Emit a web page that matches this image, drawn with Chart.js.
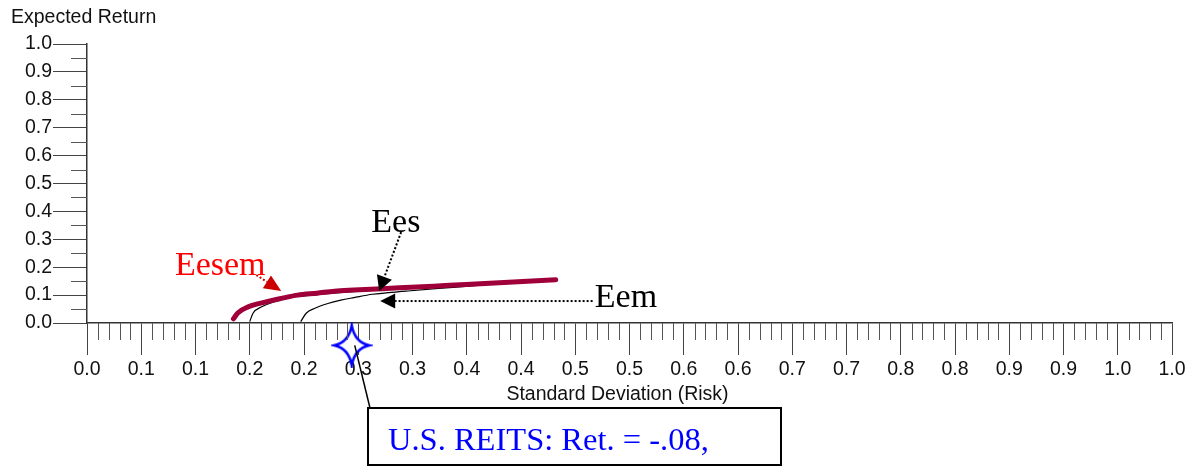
<!DOCTYPE html>
<html>
<head>
<meta charset="utf-8">
<script src="https://cdn.jsdelivr.net/npm/chart.js@4.4.1/dist/chart.umd.min.js"></script>
<style>
  html, body { margin: 0; padding: 0; background: #ffffff; }
  #wrap { width: 1199px; height: 468px; position: relative; }
</style>
</head>
<body>
<div id="wrap"><canvas id="frontier" width="1199" height="468"></canvas></div>
<script>
// Tick labels along the risk axis (one per 0.05 step, rounded to one decimal)
const xTickLabels = ['0.0','0.1','0.1','0.2','0.2','0.3','0.3','0.4','0.4','0.5','0.5',
                     '0.6','0.6','0.7','0.7','0.8','0.8','0.9','0.9','1.0','1.0'];

// Efficient frontier: equities + small caps + emerging markets
const eesemRisk   = [0.135, 0.139, 0.148, 0.164, 0.180, 0.194, 0.212, 0.228, 0.246, 0.288, 0.334, 0.380, 0.432];
const eesemReturn = [0.015, 0.036, 0.057, 0.075, 0.089, 0.100, 0.107, 0.114, 0.118, 0.126, 0.135, 0.144, 0.155];

// Efficient frontier: equities + small caps
const eesRisk   = [0.150, 0.153, 0.161, 0.173, 0.188, 0.207, 0.219, 0.233, 0.269, 0.334, 0.416];
const eesReturn = [0.005, 0.035, 0.058, 0.076, 0.092, 0.100, 0.104, 0.109, 0.119, 0.132, 0.150];

// Efficient frontier: equities + emerging markets
const eemRisk   = [0.197, 0.202, 0.210, 0.222, 0.234, 0.246, 0.263, 0.294, 0.324, 0.352, 0.375];
const eemReturn = [0.005, 0.035, 0.053, 0.070, 0.082, 0.091, 0.103, 0.114, 0.124, 0.132, 0.140];

// Single asset: U.S. REITs
const reitRisk   = [0.244];
const reitReturn = [-0.08];

const toPoints = (xs, ys) => xs.map((x, i) => ({ x: x, y: ys[i] }));

// Four-pointed star glyph used as the REIT marker
function makeStar() {
  const w = 42, h = 46;
  const cv = document.createElement('canvas');
  cv.width = w; cv.height = h;
  const g = cv.getContext('2d');
  const cx = w / 2, cy = h / 2, rx = 17.5, ry = 20, k = 3;
  g.beginPath();
  g.moveTo(cx, cy - ry);
  g.quadraticCurveTo(cx + k, cy - k, cx + rx, cy);
  g.quadraticCurveTo(cx + k, cy + k, cx, cy + ry);
  g.quadraticCurveTo(cx - k, cy + k, cx - rx, cy);
  g.quadraticCurveTo(cx - k, cy - k, cx, cy - ry);
  g.closePath();
  g.fillStyle = '#ffffff';
  g.fill();
  g.lineWidth = 2.5;
  g.strokeStyle = '#0000ff';
  g.lineJoin = 'miter';
  g.stroke();
  return cv;
}

const SERIF = '"Liberation Serif", "DejaVu Serif", serif';
const SANS = '"Liberation Sans", Arial, sans-serif';

// Minor tick marks on both axes
const minorTicks = {
  id: 'minorTicks',
  afterDraw(chart) {
    const { ctx, scales: { x, y } } = chart;
    ctx.save();
    ctx.strokeStyle = '#555';
    ctx.lineWidth = 1;
    ctx.beginPath();
    for (let i = 0; i <= 100; i++) {
      if (i % 5 === 0) continue;
      const px = Math.round(x.getPixelForValue(i / 100)) + 0.5;
      ctx.moveTo(px, y.bottom);
      ctx.lineTo(px, y.bottom + 17);
    }
    for (let i = 0; i < 10; i++) {
      const py = Math.round(y.getPixelForValue(0.05 + i * 0.1)) + 0.5;
      ctx.moveTo(x.left - 16, py);
      ctx.lineTo(x.left, py);
    }
    ctx.stroke();
    ctx.restore();
  }
};

function arrow(ctx, from, to, color, headLen, halfW) {
  const dx = to.x - from.x, dy = to.y - from.y;
  const len = Math.hypot(dx, dy);
  const ux = dx / len, uy = dy / len;
  const bx = to.x - ux * headLen, by = to.y - uy * headLen;
  ctx.save();
  ctx.strokeStyle = color;
  ctx.fillStyle = color;
  ctx.lineWidth = 2;
  ctx.setLineDash([2, 2]);
  ctx.beginPath();
  ctx.moveTo(from.x, from.y);
  ctx.lineTo(bx, by);
  ctx.stroke();
  ctx.setLineDash([]);
  ctx.beginPath();
  ctx.moveTo(to.x, to.y);
  ctx.lineTo(bx - uy * halfW, by + ux * halfW);
  ctx.lineTo(bx + uy * halfW, by - ux * halfW);
  ctx.closePath();
  ctx.fill();
  ctx.restore();
}

// Labels, pointer arrows, axis titles and the REIT call-out box
const notes = {
  id: 'notes',
  afterDraw(chart) {
    const { ctx, scales: { x, y } } = chart;
    const P = (vx, vy) => ({ x: x.getPixelForValue(vx), y: y.getPixelForValue(vy) });
    ctx.save();

    // axis titles
    ctx.fillStyle = '#111';
    ctx.font = '19.5px ' + SANS;
    ctx.textBaseline = 'alphabetic';
    ctx.textAlign = 'left';
    ctx.fillText('Expected Return', 11, 23);
    ctx.textAlign = 'center';
    ctx.fillText('Standard Deviation (Risk)', 617.5, 400);

    // frontier names
    ctx.textAlign = 'left';
    ctx.font = '34px ' + SERIF;
    ctx.fillStyle = '#ff0000';
    let p = P(0.0810, 0.1717);
    ctx.fillText('Eesem', p.x, p.y);
    ctx.fillStyle = '#000';
    p = P(0.2620, 0.3256);
    ctx.fillText('Ees', p.x, p.y);
    p = P(0.4680, 0.0572);
    ctx.fillText('Eem', p.x, p.y);

    arrow(ctx, P(0.156, 0.172), P(0.179, 0.1145), '#cc0000', 17, 7.5);
    arrow(ctx, P(0.2895, 0.3256), P(0.2693, 0.1145), '#000', 15, 8);
    arrow(ctx, P(0.466, 0.0787), P(0.2702, 0.0787), '#000', 15, 7.5);

    // call-out box for U.S. REITs
    const box = { left: 368, top: 408, width: 413, height: 57 };
    const star = P(reitRisk[0], reitReturn[0]);
    ctx.strokeStyle = '#000';
    ctx.lineWidth = 1.5;
    ctx.beginPath();
    ctx.moveTo(star.x + 3, star.y);
    ctx.lineTo(box.left + 2, box.top);
    ctx.stroke();

    ctx.lineWidth = 2;
    ctx.strokeRect(box.left, box.top, box.width, box.height);
    ctx.fillStyle = '#0000ff';
    ctx.font = '32.5px ' + SERIF;
    const ret = reitReturn[0].toFixed(2).replace('0.', '.');
    ctx.fillText('U.S. REITS: Ret. = ' + ret + ',', 388, 450);
    ctx.restore();
  }
};

new Chart(document.getElementById('frontier'), {
  type: 'line',
  data: {
    datasets: [
      {
        label: 'Eesem',
        data: toPoints(eesemRisk, eesemReturn),
        borderColor: '#a0003a',
        borderWidth: 5,
        borderCapStyle: 'round',
        pointRadius: 0,
        cubicInterpolationMode: 'monotone',
        order: 1
      },
      {
        label: 'Ees',
        data: toPoints(eesRisk, eesReturn),
        borderColor: '#000',
        borderWidth: 1.2,
        pointRadius: 0,
        cubicInterpolationMode: 'monotone',
        order: 2
      },
      {
        label: 'Eem',
        data: toPoints(eemRisk, eemReturn),
        borderColor: '#000',
        borderWidth: 1.2,
        pointRadius: 0,
        cubicInterpolationMode: 'monotone',
        order: 3
      },
      {
        label: 'U.S. REITs',
        data: toPoints(reitRisk, reitReturn),
        showLine: false,
        pointStyle: makeStar(),
        pointRadius: 26,
        clip: false,
        order: 0
      }
    ]
  },
  options: {
    responsive: false,
    animation: false,
    events: [],
    devicePixelRatio: 1,
    layout: { padding: { left: 0, top: 44, right: 24, bottom: 0 } },
    plugins: { legend: { display: false }, tooltip: { enabled: false } },
    scales: {
      x: {
        type: 'linear',
        min: 0, max: 1,
        afterFit(scale) { scale.height = 145; },
        border: { display: true, color: '#333', width: 1.5 },
        grid: { drawOnChartArea: false, drawTicks: true, tickLength: 32, color: '#444', lineWidth: 1 },
        ticks: {
          stepSize: 0.05,
          autoSkip: false,
          maxRotation: 0,
          padding: 3,
          color: '#111',
          font: { family: SANS, size: 19.5 },
          callback: (v, i) => xTickLabels[i]
        }
      },
      y: {
        type: 'linear',
        min: 0, max: 1,
        afterFit(scale) { scale.width = 87; },
        border: { display: true, color: '#333', width: 1.5 },
        grid: { drawOnChartArea: false, drawTicks: true, tickLength: 34, color: '#444', lineWidth: 1 },
        ticks: {
          stepSize: 0.1,
          padding: 1,
          color: '#111',
          font: { family: SANS, size: 19.5 },
          callback: (v) => v.toFixed(1)
        }
      }
    }
  },
  plugins: [minorTicks, notes]
});
</script>
</body>
</html>
